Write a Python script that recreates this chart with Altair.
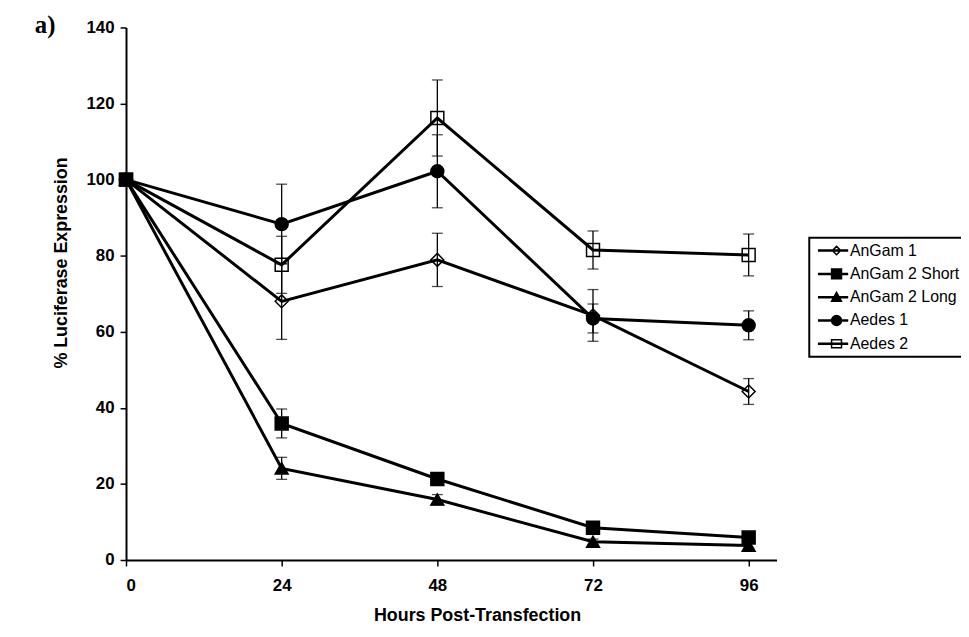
import altair as alt
import pandas as pd

# ---- data ----
hours = [0, 24, 48, 72, 96]
series_names = ["AnGam 1", "AnGam 2 Short", "AnGam 2 Long", "Aedes 1", "Aedes 2"]

angam1 = [100, 68.0, 78.9, 64.3, 44.3]
angam1_err = [0, 10.0, 7.0, 6.8, 3.4]
angam2_short = [100, 35.9, 21.3, 8.5, 5.9]
angam2_short_err = [0, 3.8, 1.5, 0.9, 0.9]
angam2_long = [100, 24.1, 15.9, 4.8, 3.8]
angam2_long_err = [0, 2.9, 1.3, 0.7, 0.7]
aedes1 = [100, 88.3, 102.2, 63.5, 61.7]
aedes1_err = [0, 10.5, 9.6, 3.8, 3.8]
aedes2 = [100, 77.6, 116.2, 81.5, 80.2]
aedes2_err = [0, 7.5, 10.0, 5.0, 5.5]

y_ticks = [0, 20, 40, 60, 80, 100, 120, 140]

marker_shapes = ["diamond", "square", "triangle-up", "circle", "square"]
marker_fills = ["transparent", "black", "black", "black", "transparent"]
marker_strokes = ["black", "black", "black", "black", "black"]
# legend symbols: line segment + marker (custom SVG paths, unit = 5 px)
seg = "M-0.7,-0.1H5.1V0.1H-0.7Z"
legend_paths = [
    seg + "M2.9,-0.85L3.75,0L2.9,0.85L2.05,0Z",
    seg + "M1.9,-1H3.9V1H1.9Z",
    seg + "M2.9,-1L3.9,0.8H1.9Z",
    seg + "M1.9,0A1,1 0 1,0 3.9,0A1,1 0 1,0 1.9,0Z",
    seg + "M1.9,-0.8H3.9V0.8H1.9Z",
]

values = [angam1, angam2_short, angam2_long, aedes1, aedes2]
errors = [angam1_err, angam2_short_err, angam2_long_err, aedes1_err, aedes2_err]

rows = []
for s, vals, errs in zip(series_names, values, errors):
    for h, v, e in zip(hours, vals, errs):
        rows.append({"series": s, "hours": h, "value": v, "err": e,
                     "lo": v - e, "hi": v + e})
df = pd.DataFrame(rows)
df_err = df[df["err"] > 0]

FONT = "Liberation Sans"

x_enc = alt.X(
    "hours:Q",
    scale=alt.Scale(domain=[0, 100.3], nice=False, zero=False),
    axis=alt.Axis(
        values=hours, grid=False, title="Hours Post-Transfection",
        labelPadding=12, titleX=354, titleY=56,
        titleAlign="center", titleBaseline="middle",
    ),
)
y_axis = alt.Axis(
    values=y_ticks, grid=False, title="% Luciferase Expression",
    labelPadding=6, titleX=-65, titleY=237, titleAngle=270,
    titleAlign="center", titleBaseline="middle",
)
y_scale = alt.Scale(domain=[0, 140], nice=False)

base = alt.Chart(df)

rules = alt.Chart(df_err).mark_rule(color="black", strokeWidth=1.3).encode(
    x=x_enc,
    y=alt.Y("lo:Q", scale=y_scale, axis=y_axis),
    y2="hi:Q",
)

caps = alt.Chart(df_err).transform_fold(
    ["lo", "hi"], as_=["end", "yv"]
).mark_tick(orient="horizontal", color="black", size=11, thickness=1.3).encode(
    x=x_enc,
    y=alt.Y("yv:Q", scale=y_scale, axis=y_axis),
)

lines = base.mark_line(color="black", strokeWidth=3).encode(
    x=x_enc,
    y=alt.Y("value:Q", scale=y_scale, axis=y_axis),
    detail="series:N",
    order="hours:Q",
)

points = base.mark_point(filled=True, stroke="black", strokeWidth=1.5,
                         size=170, opacity=1).encode(
    x=x_enc,
    y=alt.Y("value:Q", scale=y_scale, axis=y_axis),
    shape=alt.Shape("series:N", scale=alt.Scale(domain=series_names, range=marker_shapes), legend=None),
    fill=alt.Fill("series:N", scale=alt.Scale(domain=series_names, range=marker_fills), legend=None),
)

leg = alt.Legend(
    title=None, orient="none", legendX=689, legendY=212,
    symbolSize=100, symbolStrokeWidth=1.5, symbolStrokeColor="black",
    symbolOpacity=1, labelFont=FONT, labelFontSize=16, labelColor="black",
    labelOffset=20, rowPadding=7.5, padding=5, strokeColor="black",
)

legend_layer = base.mark_point(filled=True, strokeWidth=1.5,
                               size=100, opacity=0).encode(
    x=x_enc,
    y=alt.Y("value:Q", scale=y_scale, axis=y_axis),
    shape=alt.Shape("series:N", scale=alt.Scale(domain=series_names, range=legend_paths), legend=leg),
    fill=alt.Fill("series:N", scale=alt.Scale(domain=series_names, range=marker_fills), legend=leg),
    stroke=alt.Stroke("series:N", scale=alt.Scale(domain=series_names, range=marker_strokes), legend=leg),
)

panel_label = alt.Chart(pd.DataFrame({"t": ["a)"]})).mark_text(
    font="Liberation Serif", fontSize=25, fontWeight="bold", color="black",
    align="left", baseline="alphabetic",
).encode(x=alt.value(-92), y=alt.value(6), text="t:N")

chart = alt.layer(
    rules, caps, lines, points, legend_layer, panel_label
).resolve_scale(
    shape="independent", fill="independent", stroke="independent"
).properties(
    width=656, height=537,
    autosize=alt.AutoSizeParams(type="none"),
    padding={"left": 119, "top": 17, "right": 186, "bottom": 75},
).configure_view(
    stroke=None
).configure_axis(
    domainColor="black", domainWidth=2, tickColor="black", tickWidth=1.5,
    tickSize=6, labelFont=FONT, labelFontWeight="bold", labelFontSize=17,
    labelColor="black", titleFont=FONT, titleFontSize=18,
    titleFontWeight="bold", titleColor="black",
).configure_legend(
    strokeWidth=2
)

chart.save("out.html", embed_options={"renderer": "svg", "actions": False})
